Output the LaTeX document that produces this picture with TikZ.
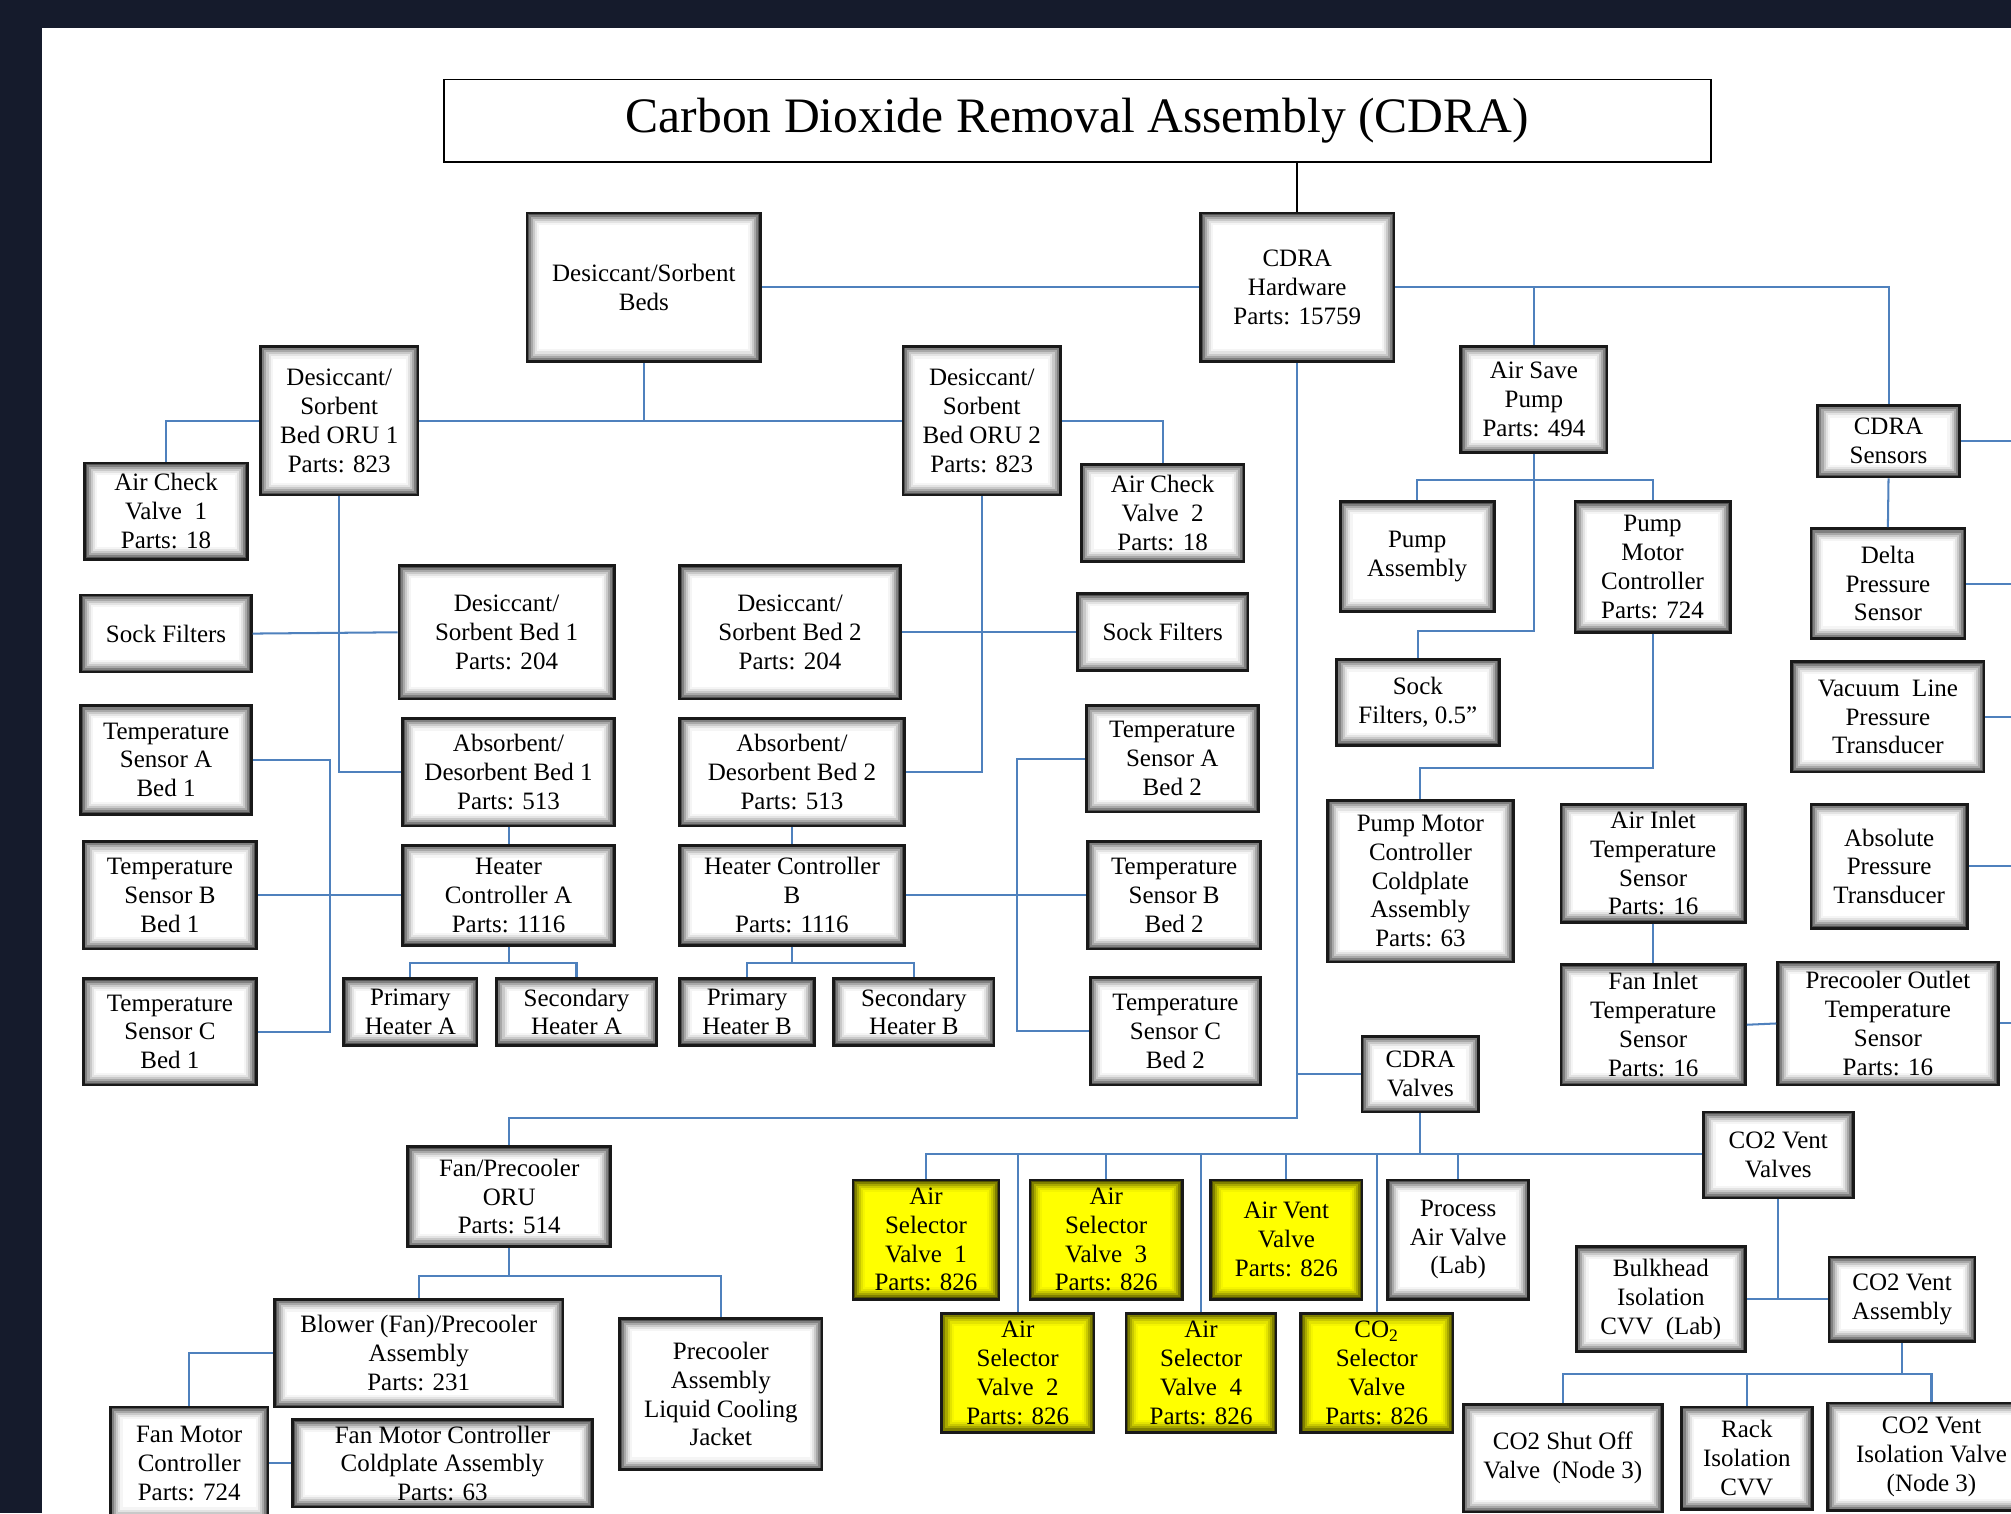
\documentclass[tikz,border=0pt]{standalone}
\usepackage{fontspec}
\setmainfont{Liberation Serif}
\usetikzlibrary{calc}
\definecolor{navy}{RGB}{21,27,44}
\definecolor{conblue}{RGB}{79,129,189}
\definecolor{vyellow}{RGB}{255,255,0}
\newcommand\innershade[1]{\foreach \d/\c in {0.5/68,1.4/50,2.3/34,3.2/21,4.1/11,5.0/4}{\draw[line width=0.95pt,black!\c!#1] ([xshift=\d*1pt,yshift=\d*1pt]path picture bounding box.south west) rectangle ([xshift=-\d*1pt,yshift=-\d*1pt]path picture bounding box.north east);}}
\newcommand\bx[7][wbox]{\node[#1,minimum width={(#4-#2)*0.02cm},minimum height={(#5-#3)*0.02cm}] (#6) at ({(#2+#4)/2},{(#3+#5)/2}) {#7};}
\tikzset{
 box/.style={draw=black!90, line width=1.2pt, align=center, inner sep=0pt, font=\fontsize{11.1pt}{12.8pt}\selectfont},
 wbox/.style={box, fill=white, path picture={\innershade{white}}},
 ybox/.style={box, fill=vyellow, path picture={\innershade{vyellow}}},
 con/.style={draw=conblue, line width=0.9pt},
}
\begin{document}
\begin{tikzpicture}[x=0.02cm,y=-0.02cm]
\useasboundingbox (0,0) rectangle (1568,1180);
\clip (0,0) rectangle (1568,1180);
\fill[navy] (0,0) rectangle (1568,1180);
\fill[white] (33,22) rectangle (1568,1180);
% title
\node[draw=black, line width=0.8pt, minimum width={988*0.02cm}, minimum height={64*0.02cm}, inner sep=0pt, font=\fontsize{22pt}{26pt}\selectfont] (title) at (840,94) {Carbon Dioxide Removal Assembly (CDRA)};
% boxes
\bx{936}{166}{1087}{282}{hw}{CDRA\\Hardware\\Parts: 15759}
\bx{411}{166}{593}{282}{dsb}{Desiccant/Sorbent\\Beds}
\bx{203}{270}{326}{386}{oru1}{Desiccant/\\Sorbent\\Bed ORU 1\\Parts: 823}
\bx{704}{270}{827}{386}{oru2}{Desiccant/\\Sorbent\\Bed ORU 2\\Parts: 823}
\bx{66}{361}{193}{436}{acv1}{Air Check\\Valve\ \ 1\\Parts: 18}
\bx{843}{362}{970}{438}{acv2}{Air Check\\Valve\ \ 2\\Parts: 18}
\bx{63}{464}{196}{524}{sockL}{Sock Filters}
\bx{311}{441}{479}{545}{des1}{Desiccant/\\Sorbent Bed 1\\Parts: 204}
\bx{530}{441}{702}{545}{des2}{Desiccant/\\Sorbent Bed 2\\Parts: 204}
\bx{840}{463}{973}{523}{sockR}{Sock Filters}
\bx{63}{550}{196}{635}{tsa1}{Temperature\\Sensor A\\Bed 1}
\bx{314}{560}{479}{644}{abs1}{Absorbent/\\Desorbent Bed 1\\Parts: 513}
\bx{530}{560}{705}{644}{abs2}{Absorbent/\\Desorbent Bed 2\\Parts: 513}
\bx{847}{550}{981}{633}{tsa2}{Temperature\\Sensor A\\Bed 2}
\bx{65}{656}{200}{740}{tsb1}{Temperature\\Sensor B\\Bed 1}
\bx{314}{659}{479}{737}{heatA}{Heater\\Controller A\\Parts: 1116}
\bx{530}{659}{705}{737}{heatB}{Heater Controller\\B\\Parts: 1116}
\bx{848}{656}{983}{740}{tsb2}{Temperature\\Sensor B\\Bed 2}
\bx{65}{763}{200}{846}{tsc1}{Temperature\\Sensor C\\Bed 1}
\bx{268}{763}{372}{815}{pha}{Primary\\Heater A}
\bx{387}{763}{512}{815}{sha}{Secondary\\Heater A}
\bx{530}{763}{635}{815}{phb}{Primary\\Heater B}
\bx{650}{763}{775}{815}{shb}{Secondary\\Heater B}
\bx{850}{762}{983}{846}{tsc2}{Temperature\\Sensor C\\Bed 2}
\bx{1139}{270}{1253}{353}{asp}{Air Save\\Pump\\Parts: 494}
\bx{1417}{316}{1528}{372}{sens}{CDRA\\Sensors}
\bx{1045}{391}{1165}{477}{pa}{Pump\\Assembly}
\bx{1228}{391}{1349}{493}{pmc}{Pump\\Motor\\Controller\\Parts: 724}
\bx{1412}{412}{1532}{498}{dps}{Delta\\Pressure\\Sensor}
\bx{1042}{514}{1169}{581}{sf05}{Sock\\Filters, 0.5”}
\bx{1397}{516}{1547}{602}{vlpt}{Vacuum\ \ Line\\Pressure\\Transducer}
\bx{1035}{624}{1180}{750}{pmcc}{Pump Motor\\Controller\\Coldplate\\Assembly\\Parts: 63}
\bx{1217}{627}{1361}{719}{ait}{Air Inlet\\Temperature\\Sensor\\Parts: 16}
\bx{1412}{627}{1534}{724}{apt}{Absolute\\Pressure\\Transducer}
\bx{1217}{752}{1361}{846}{fitmp}{Fan Inlet\\Temperature\\Sensor\\Parts: 16}
\bx{1386}{750}{1558}{846}{pot}{Precooler Outlet\\Temperature\\Sensor\\Parts: 16}
\bx{1062}{808}{1153}{867}{valves}{CDRA\\Valves}
\bx{1328}{867}{1445}{934}{co2vv}{CO2 Vent\\Valves}
\bx{318}{894}{476}{972}{fan}{Fan/Precooler\\ORU\\Parts: 514}
\bx[ybox]{665}{920}{779}{1013}{asv1}{Air\\Selector\\Valve\ \ 1\\Parts: 826}
\bx[ybox]{803}{920}{922}{1013}{asv3}{Air\\Selector\\Valve\ \ 3\\Parts: 826}
\bx[ybox]{944}{920}{1062}{1013}{avv}{Air Vent\\Valve\\Parts: 826}
\bx{1082}{920}{1192}{1013}{pav}{Process\\Air Valve\\(Lab)}
\bx[ybox]{734}{1024}{853}{1117}{asv2}{Air\\Selector\\Valve\ \ 2\\Parts: 826}
\bx[ybox]{878}{1024}{995}{1117}{asv4}{Air\\Selector\\Valve\ \ 4\\Parts: 826}
\bx[ybox]{1014}{1024}{1133}{1117}{co2sv}{CO\textsubscript{2}\\Selector\\Valve\\Parts: 826}
\bx{1229}{972}{1361}{1054}{bulk}{Bulkhead\\Isolation\\CVV\ \ (Lab)}
\bx{1426}{980}{1540}{1046}{co2va}{CO2 Vent\\Assembly}
\bx{214}{1013}{439}{1097}{blower}{Blower (Fan)/Precooler\\Assembly\\Parts: 231}
\bx{483}{1028}{641}{1146}{pcj}{Precooler\\Assembly\\Liquid Cooling\\Jacket}
\bx{86}{1097}{209}{1185}{fmc}{Fan Motor\\Controller\\Parts: 724}
\bx{228}{1107}{462}{1175}{fmcc}{Fan Motor Controller\\Coldplate Assembly\\Parts: 63}
\bx{1141}{1095}{1296}{1179}{cso}{CO2 Shut Off\\Valve\ \ (Node 3)}
\bx{1311}{1097}{1413}{1177}{rack}{Rack\\Isolation\\CVV}
\bx{1425}{1094}{1587}{1178}{cviv}{CO2 Vent\\Isolation Valve\\(Node 3)}
% helper coordinates
\coordinate (redge) at (1568,0);
\coordinate (busL) at (257,0);
\coordinate (busR) at (793,0);
\coordinate (hbA) at (0,751);
\coordinate (jp) at (0,492);
\coordinate (pb) at (0,374);
\coordinate (jq) at (0,599);
\coordinate (tr) at (0,872);
\coordinate (vb) at (0,900);
\coordinate (cb) at (0,1071);
\coordinate (fb) at (0,995);
% connectors
\draw[draw=black, line width=0.8pt] (hw.north |- title.south) -- (hw.north);
\draw[con] (hw.west) -- (dsb.east);
\draw[con] (hw.east) -| (sens.north);
\draw[con] (asp.north) -- (asp.north |- hw.east);
\draw[con] (dsb.south) -- (dsb.south |- oru1.east);
\draw[con] (oru1.east) -- (oru2.west);
\draw[con] (oru1.west) -| (acv1.north);
\draw[con] (oru2.east) -| (acv2.north);
\draw[con] (oru1.south) |- (abs1.west);
\draw[con] (sockL.east) -- (des1.west);
\draw[con] (oru2.south) |- (abs2.east);
\draw[con] (des2.east) -- (sockR.west);
\draw[con] (abs1.south) -- (heatA.north);
\draw[con] (abs2.south) -- (heatB.north);
\draw[con] (tsa1.east) -- (tsa1.east -| busL) -- (tsc1.east -| busL) -- (tsc1.east);
\draw[con] (tsb1.east) -- (heatA.west);
\draw[con] (tsa2.west) -- (tsa2.west -| busR) -- (tsc2.west -| busR) -- (tsc2.west);
\draw[con] (heatB.east) -- (tsb2.west);
\draw[con] (heatA.south) -- (heatA.south |- hbA);
\draw[con] (pha.north) -- (pha.north |- hbA) -- (sha.north |- hbA) -- (sha.north);
\draw[con] (heatB.south) -- (heatB.south |- hbA);
\draw[con] (phb.north) -- (phb.north |- hbA) -- (shb.north |- hbA) -- (shb.north);
\draw[con] (asp.south) -- (asp.south |- jp) -| (sf05.north);
\draw[con] (pa.north) -- (pa.north |- pb) -- (pmc.north |- pb) -- (pmc.north);
\draw[con] (pmc.south) -- (pmc.south |- jq) -| (pmcc.north);
\draw[con] (sens.south) -- (dps.north);
\draw[con] (ait.south) -- (fitmp.north);
\draw[con] (fitmp.east) -- (pot.west);
\draw[con] (sens.east) -- (sens.east -| redge);
\draw[con] (dps.east) -- (dps.east -| redge);
\draw[con] (vlpt.east) -- (vlpt.east -| redge);
\draw[con] (apt.east) -- (apt.east -| redge);
\draw[con] (pot.east) -- (pot.east -| redge);
\draw[con] (hw.south) -- (hw.south |- tr) -| (fan.north);
\draw[con] (hw.south |- valves.west) -- (valves.west);
\draw[con] (valves.south) -- (valves.south |- vb);
\draw[con] (asv1.north) -- (asv1.north |- vb) -- (vb -| co2vv.west);
\draw[con] (asv2.north) -- (asv2.north |- vb);
\draw[con] (asv3.north) -- (asv3.north |- vb);
\draw[con] (asv4.north) -- (asv4.north |- vb);
\draw[con] (avv.north) -- (avv.north |- vb);
\draw[con] (co2sv.north) -- (co2sv.north |- vb);
\draw[con] (pav.north) -- (pav.north |- vb);
\draw[con] (co2vv.south) -- (co2vv.south |- bulk.east);
\draw[con] (bulk.east) -- (co2va.west);
\draw[con] (co2va.south) -- (co2va.south |- cb);
\draw[con] (cso.north) -- (cso.north |- cb) -- (cviv.north |- cb) -- (cviv.north);
\draw[con] (rack.north) -- (rack.north |- cb);
\draw[con] (fan.south) -- (fan.south |- fb);
\draw[con] (blower.north) -- (blower.north |- fb) -- (pcj.north |- fb) -- (pcj.north);
\draw[con] (blower.west) -| (fmc.north);
\draw[con] (fmc.east) -- (fmcc.west);
\end{tikzpicture}
\end{document}
